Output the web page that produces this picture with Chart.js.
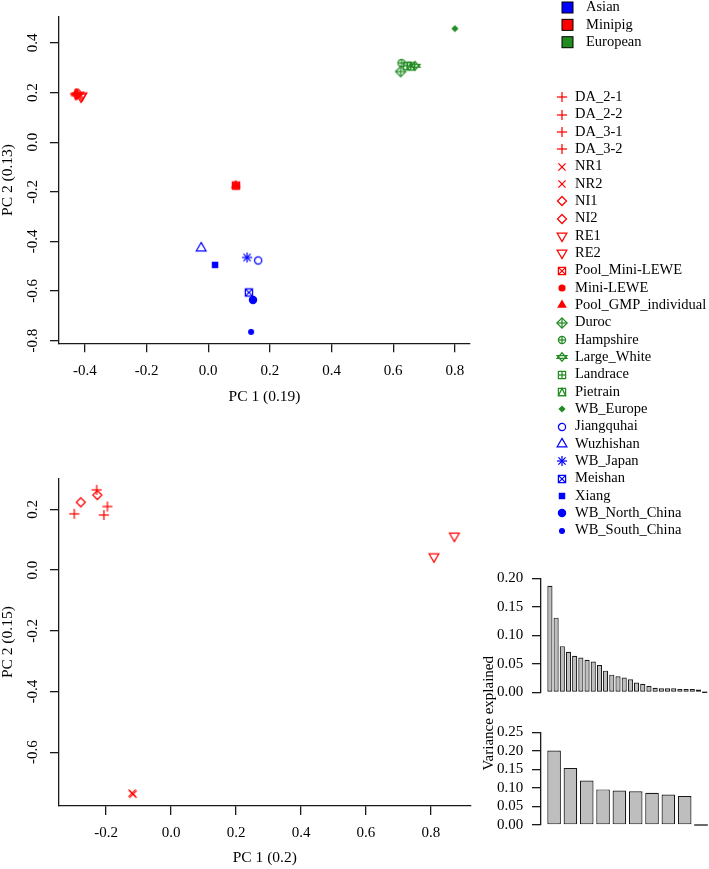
<!DOCTYPE html>
<html>
<head>
<meta charset="utf-8">
<script src="https://cdn.jsdelivr.net/npm/chart.js"></script>
<style>
  body { margin: 0; background: #fff; width: 709px; height: 869px; position: relative; overflow: hidden; }
  canvas { position: absolute; }
</style>
</head>
<body>
<canvas id="pcaAll" width="709" height="545" style="left:0px;top:0px"></canvas>
<canvas id="pcaMini" width="480" height="439" style="left:0px;top:430px"></canvas>
<canvas id="varAllChart" width="239" height="150" style="left:470px;top:560px"></canvas>
<canvas id="varMiniChart" width="239" height="229" style="left:470px;top:640px"></canvas>
<script>
// ---- data ----
const regionNames = ['Asian', 'Minipig', 'European'];

const sampleNames = ['DA_2-1', 'DA_2-2', 'DA_3-1', 'DA_3-2', 'NR1', 'NR2', 'NI1', 'NI2', 'RE1', 'RE2',
    'Pool_Mini-LEWE', 'Mini-LEWE', 'Pool_GMP_individual',
    'Duroc', 'Hampshire', 'Large_White', 'Landrace', 'Pietrain', 'WB_Europe',
    'Jiangquhai', 'Wuzhishan', 'WB_Japan', 'Meishan', 'Xiang', 'WB_North_China', 'WB_South_China'];
const sampleRegion = ['Minipig', 'Minipig', 'Minipig', 'Minipig', 'Minipig', 'Minipig', 'Minipig', 'Minipig', 'Minipig', 'Minipig',
    'Minipig', 'Minipig', 'Minipig',
    'European', 'European', 'European', 'European', 'European', 'European',
    'Asian', 'Asian', 'Asian', 'Asian', 'Asian', 'Asian', 'Asian'];

// PCA of all samples
const pc1All = [-0.432, -0.428, -0.425, -0.430, -0.418, -0.415, -0.427, -0.422, -0.410, -0.413,
    0.090, 0.091, 0.089,
    0.624, 0.627, 0.671, 0.645, 0.658, 0.800,
    0.162, -0.023, 0.126, 0.132, 0.022, 0.145, 0.139];
const pc2All = [0.195, 0.198, 0.192, 0.188, 0.186, 0.190, 0.193, 0.196, 0.187, 0.183,
    -0.175, -0.176, -0.174,
    0.285, 0.319, 0.308, 0.308, 0.306, 0.458,
    -0.477, -0.427, -0.465, -0.606, -0.495, -0.636, -0.765];

// PCA of the minipig samples only
const miniNames = ['DA_2-1', 'DA_2-2', 'DA_3-1', 'DA_3-2', 'NR1', 'NR2', 'NI1', 'NI2', 'RE1', 'RE2'];
const pc1Mini = [-0.298, -0.229, -0.196, -0.207, -0.120, -0.117, -0.278, -0.227, 0.809, 0.872];
const pc2Mini = [0.185, 0.264, 0.209, 0.181, -0.735, -0.738, 0.223, 0.247, 0.044, 0.112];

// variance explained per component
const varAll = [0.187, 0.131, 0.081, 0.071, 0.064, 0.061, 0.057, 0.054, 0.048, 0.038,
    0.031, 0.028, 0.026, 0.023, 0.017, 0.015, 0.011, 0.008, 0.007, 0.007,
    0.007, 0.006, 0.006, 0.006, 0.005, 0];
const varMini = [0.201, 0.154, 0.120, 0.096, 0.093, 0.091, 0.087, 0.082, 0.078, 0];

// tick values
const xTicksAll = [-0.4, -0.2, 0.0, 0.2, 0.4, 0.6, 0.8];
const yTicksAll = [-0.8, -0.6, -0.4, -0.2, 0.0, 0.2, 0.4];
const xTicksMini = [-0.2, 0.0, 0.2, 0.4, 0.6, 0.8];
const yTicksMini = [-0.6, -0.4, -0.2, 0.0, 0.2];
const varTicksAll = [0, 0.05, 0.10, 0.15, 0.20];
const varTicksMini = [0, 0.05, 0.10, 0.15, 0.20, 0.25];

// ---- styles ----
const FONT = '"Liberation Serif", "Times New Roman", serif';
const regionColors = { Asian: '#0000FF', Minipig: '#FF0000', European: '#228B22' };
const samplePch = { 'DA_2-1': 3, 'DA_2-2': 3, 'DA_3-1': 3, 'DA_3-2': 3, NR1: 4, NR2: 4, NI1: 5, NI2: 5, RE1: 6, RE2: 6,
    'Pool_Mini-LEWE': 7, 'Mini-LEWE': 16, 'Pool_GMP_individual': 17,
    Duroc: 9, Hampshire: 10, Large_White: 11, Landrace: 12, Pietrain: 14, WB_Europe: 18,
    Jiangquhai: 1, Wuzhishan: 2, WB_Japan: 8, Meishan: 7, Xiang: 15, WB_North_China: 19, WB_South_China: 20 };

Chart.defaults.font.family = FONT;
Chart.defaults.font.size = 15;
Chart.defaults.color = '#000';

// R style plotting symbols drawn into small canvases
const R0 = 3.6;
function glyph(pch, color) {
    const size = 18, m = size / 2;
    const c = document.createElement('canvas');
    c.width = c.height = size;
    const g = c.getContext('2d');
    g.strokeStyle = color;
    g.fillStyle = color;
    g.lineWidth = 1.25;
    const line = (x1, y1, x2, y2) => { g.beginPath(); g.moveTo(m + x1, m + y1); g.lineTo(m + x2, m + y2); g.stroke(); };
    const poly = (pts, fill) => {
        g.beginPath();
        pts.forEach(([x, y], i) => i ? g.lineTo(m + x, m + y) : g.moveTo(m + x, m + y));
        g.closePath();
        fill ? g.fill() : g.stroke();
    };
    const circ = (r, fill) => { g.beginPath(); g.arc(m, m, r, 0, 2 * Math.PI); fill ? g.fill() : g.stroke(); };
    const sq = (h, fill) => poly([[-h, -h], [h, -h], [h, h], [-h, h]], fill);
    const tr = R0 * 1.555, tx = R0 * 1.3468, ty = R0 * 0.7776;
    const up = [[0, -tr], [tx, ty], [-tx, ty]];
    const down = [[0, tr], [tx, -ty], [-tx, -ty]];
    const p = R0 * Math.SQRT2, d = R0 * 1.2533;
    switch (pch) {
        case 1: circ(R0); break;
        case 2: poly(up); break;
        case 3: line(-p, 0, p, 0); line(0, -p, 0, p); break;
        case 4: line(-R0, -R0, R0, R0); line(-R0, R0, R0, -R0); break;
        case 5: poly([[0, -d], [d, 0], [0, d], [-d, 0]]); break;
        case 6: poly(down); break;
        case 7: sq(R0); line(-R0, -R0, R0, R0); line(-R0, R0, R0, -R0); break;
        case 8: line(-p, 0, p, 0); line(0, -p, 0, p); line(-R0, -R0, R0, R0); line(-R0, R0, R0, -R0); break;
        case 9: poly([[0, -p], [p, 0], [0, p], [-p, 0]]); line(-p, 0, p, 0); line(0, -p, 0, p); break;
        case 10: circ(R0); line(-R0, 0, R0, 0); line(0, -R0, 0, R0); break;
        case 11: {
            const yc = 0.5 * (ty + tr), o = tr - yc;
            poly([[-tx, o], [tx, o], [0, -yc]]);
            poly([[-tx, -o], [tx, -o], [0, yc]]);
            break;
        }
        case 12: sq(R0); line(-R0, 0, R0, 0); line(0, -R0, 0, R0); break;
        case 14: sq(R0); poly([[0, -R0], [R0, R0], [-R0, R0]]); break;
        case 15: sq(R0 * 0.9, true); break;
        case 16: circ(R0, true); break;
        case 17: poly(up, true); break;
        case 18: poly([[0, -R0], [R0, 0], [0, R0], [-R0, 0]], true); break;
        case 19: circ(R0, true); circ(R0); break;
        case 20: circ(R0 * 2 / 3, true); circ(R0 * 2 / 3); break;
    }
    return c;
}

function sampleDatasets(names, xs, ys) {
    return names.map((name, i) => {
        const region = sampleRegion[sampleNames.indexOf(name)];
        return {
            label: name,
            data: [{ x: xs[i], y: ys[i] }],
            pointStyle: glyph(samplePch[name], regionColors[region]),
            pointRadius: 4,
            clip: false
        };
    });
}

const axisColor = '#1a1a1a';
function rAxis(extra) {
    return Object.assign({
        type: 'linear',
        border: { display: true, color: axisColor, width: 1.3 },
        grid: { drawOnChartArea: false, drawTicks: true, tickLength: 9, color: axisColor, lineWidth: 1.3 }
    }, extra);
}

function scatterOptions(o) {
    return {
        responsive: false,
        animation: false,
        devicePixelRatio: 1,
        events: [],
        layout: { padding: o.padding },
        plugins: { legend: { display: false }, tooltip: { enabled: false } },
        scales: {
            x: rAxis({
                position: 'bottom',
                min: o.xMin, max: o.xMax,
                afterBuildTicks: s => { s.ticks = o.xTicks.map(v => ({ value: v })); },
                afterFit: s => { s.height = o.xHeight; },
                ticks: { padding: 9.4, autoSkip: false, maxRotation: 0, callback: v => v.toFixed(1) },
                title: { display: true, text: o.xTitle, font: { size: 15.5, lineHeight: 1 }, padding: 0 }
            }),
            y: rAxis({
                position: 'left',
                min: o.yMin, max: o.yMax,
                afterBuildTicks: s => { s.ticks = o.yTicks.map(v => ({ value: v })); },
                afterFit: s => { s.width = 59; },
                ticks: { padding: 5, autoSkip: false, minRotation: 90, maxRotation: 90, crossAlign: 'center', callback: v => v.toFixed(1) },
                title: { display: true, text: o.yTitle, font: { size: 15.5, lineHeight: 1 }, padding: 0 }
            })
        }
    };
}

// legend on the right of the first plot
const legendPlugin = {
    id: 'pcaLegend',
    afterDraw(chart) {
        const ctx = chart.ctx;
        ctx.save();
        ctx.font = '14.5px ' + FONT;
        ctx.textBaseline = 'middle';
        ctx.textAlign = 'left';
        regionNames.forEach((name, i) => {
            const y = 7.5 + i * 17.35;
            ctx.fillStyle = regionColors[name];
            ctx.fillRect(562, y - 5.5, 11, 11);
            ctx.strokeStyle = '#000';
            ctx.lineWidth = 1;
            ctx.strokeRect(562, y - 5.5, 11, 11);
            ctx.fillStyle = '#000';
            ctx.fillText(name, 586, y);
        });
        chart.data.datasets.forEach((ds, i) => {
            const y = 97.3 + i * 17.33;
            const img = ds.pointStyle;
            ctx.drawImage(img, 562 - img.width / 2, Math.round(y) - img.height / 2);
            ctx.fillStyle = '#000';
            ctx.fillText(ds.label, 575, y);
        });
        ctx.restore();
    }
};

new Chart(document.getElementById('pcaAll'), {
    type: 'scatter',
    data: { datasets: sampleDatasets(sampleNames, pc1All, pc2All) },
    options: scatterOptions({
        xMin: -0.484, xMax: 0.849, yMin: -0.811, yMax: 0.506,
        xTicks: xTicksAll, yTicks: yTicksAll,
        xTitle: 'PC 1 (0.19)', yTitle: 'PC 2 (0.13)',
        xHeight: 61.15,
        padding: { top: 16.7, left: 0, right: 239, bottom: 140.55 }
    }),
    plugins: [legendPlugin]
});

new Chart(document.getElementById('pcaMini'), {
    type: 'scatter',
    data: { datasets: sampleDatasets(miniNames, pc1Mini, pc2Mini) },
    options: scatterOptions({
        xMin: -0.345, xMax: 0.922, yMin: -0.777, yMax: 0.302,
        xTicks: xTicksMini, yTicks: yTicksMini,
        xTitle: 'PC 1 (0.2)', yTitle: 'PC 2 (0.15)',
        xHeight: 59.75,
        padding: { top: 48.3, left: 0, right: 9.4, bottom: 3.25 }
    })
});

// zero height bars are drawn by R as a flat line
const zeroBarLine = {
    id: 'zeroBarLine',
    afterDatasetsDraw(chart) {
        const ctx = chart.ctx;
        const values = chart.data.datasets[0].data;
        chart.getDatasetMeta(0).data.forEach((bar, i) => {
            if (values[i].y !== 0) return;
            ctx.save();
            ctx.strokeStyle = axisColor;
            ctx.lineWidth = 1.3;
            ctx.beginPath();
            ctx.moveTo(bar.x - bar.width / 2, bar.base);
            ctx.lineTo(bar.x + bar.width / 2, bar.base);
            ctx.stroke();
            ctx.restore();
        });
    }
};

const varTitle = {
    id: 'varTitle',
    afterDraw(chart) {
        const ctx = chart.ctx;
        ctx.save();
        ctx.translate(18.7, 73.3);
        ctx.rotate(-Math.PI / 2);
        ctx.font = '15px ' + FONT;
        ctx.textAlign = 'center';
        ctx.textBaseline = 'middle';
        ctx.fillStyle = '#000';
        ctx.fillText('Variance explained', 0, 0);
        ctx.restore();
    }
};

function barOptions(o) {
    return {
        responsive: false,
        animation: false,
        devicePixelRatio: 1,
        events: [],
        layout: { padding: o.padding },
        plugins: { legend: { display: false }, tooltip: { enabled: false } },
        scales: {
            x: { type: 'linear', display: false, offset: false, grid: { offset: false }, min: o.xMin, max: o.xMax,
                afterBuildTicks: s => { s.ticks = []; } },
            y: rAxis({
                position: 'left',
                min: 0, max: o.yMax,
                afterBuildTicks: s => { s.ticks = o.yTicks.map(v => ({ value: v })); },
                afterFit: s => { s.width = 71; },
                ticks: { padding: 8.7, autoSkip: false, callback: v => v.toFixed(2) }
            })
        }
    };
}

function barData(values) {
    return {
        datasets: [{
            data: values.map((v, i) => ({ x: i + 1, y: v })),
            backgroundColor: '#BEBEBE',
            borderColor: axisColor,
            borderWidth: 1.2,
            borderSkipped: false,
            barPercentage: 0.8333,
            categoryPercentage: 1
        }]
    };
}

new Chart(document.getElementById('varAllChart'), {
    type: 'bar',
    data: barData(varAll),
    options: barOptions({ xMin: -0.44, xMax: 26.7, yMax: 0.20, yTicks: varTicksAll,
        padding: { top: 18.3, left: 0, right: 0, bottom: 13 } }),
    plugins: [zeroBarLine]
});

new Chart(document.getElementById('varMiniChart'), {
    type: 'bar',
    data: barData(varMini),
    options: barOptions({ xMin: 0.198, xMax: 10.49, yMax: 0.25, yTicks: varTicksMini,
        padding: { top: 92.3, left: 0, right: 0, bottom: 44 } }),
    plugins: [zeroBarLine, varTitle]
});
</script>
</body>
</html>
